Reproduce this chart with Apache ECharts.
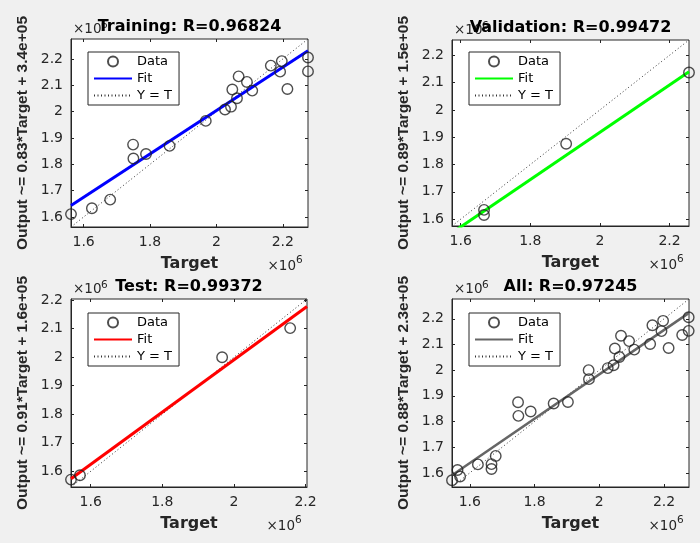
<!DOCTYPE html>
<html><head><meta charset="utf-8">
<script src="https://cdn.jsdelivr.net/npm/echarts@6/dist/echarts.min.js"></script>
<style>html,body{margin:0;padding:0;background:#f0f0f0}#c{width:700px;height:543px}</style>
</head><body><div id="c"></div>
<script>
// values in units of 1e6 (axes show "x10^6")
const trainTarget = [1.562,1.625,1.680,1.749,1.750,1.788,1.859,1.968,2.026,2.044,2.048,2.062,2.067,2.092,2.108,2.164,2.192,2.197,2.214,2.276,2.276];
const trainOutput = [1.611,1.633,1.666,1.875,1.822,1.839,1.870,1.965,2.008,2.019,2.084,2.051,2.134,2.113,2.080,2.175,2.152,2.192,2.086,2.206,2.153];
const valTarget = [1.667,1.667,1.903,2.256];
const valOutput = [1.615,1.634,1.876,2.137];
const testTarget = [1.545,1.570,1.967,2.157];
const testOutput = [1.571,1.586,2.000,2.102];
const allTarget = trainTarget.concat(valTarget, testTarget);
const allOutput = trainOutput.concat(valOutput, testOutput);

// fitted-line end points
const fitTrain = [[1.562,1.644],[2.276,2.231]];
const fitVal = [[1.575,1.550],[2.256,2.140]];
const fitTest = [[1.545,1.574],[2.204,2.178]];
const fitAll = [[1.545,1.591],[2.277,2.223]];

// axis limits (same for x and y)
const rangeTrain = [1.562, 2.276];
const rangeVal = [1.575, 2.256];
const rangeTest = [1.545, 2.204];
const rangeAll = [1.545, 2.277];

const xTicks = [1.6, 1.8, 2.0, 2.2];
const yTicks = [1.6, 1.7, 1.8, 1.9, 2.0, 2.1, 2.2];

const titles = ['Training: R=0.96824', 'Validation: R=0.99472', 'Test: R=0.99372', 'All: R=0.97245'];
const yNames = ['Output ~= 0.83*Target + 3.4e+05', 'Output ~= 0.89*Target + 1.5e+05', 'Output ~= 0.91*Target + 1.6e+05', 'Output ~= 0.88*Target + 2.3e+05'];
const xName = 'Target';
const legendNames = ['Data', 'Fit', 'Y = T'];
const fitColors = ['#0000ff', '#00ff00', '#ff0000', '#666666'];

const panels = [
  {t: trainTarget, o: trainOutput, fit: fitTrain, range: rangeTrain, grid: {left: 71, top: 39, width: 237, height: 188}, legend: {left: 88, top: 52}, fitW: 3},
  {t: valTarget, o: valOutput, fit: fitVal, range: rangeVal, grid: {left: 452, top: 40, width: 237, height: 186}, legend: {left: 469, top: 52}, fitW: 3},
  {t: testTarget, o: testOutput, fit: fitTest, range: rangeTest, grid: {left: 71, top: 299, width: 236, height: 188}, legend: {left: 88, top: 313}, fitW: 3},
  {t: allTarget, o: allOutput, fit: fitAll, range: rangeAll, grid: {left: 452, top: 299, width: 237, height: 188}, legend: {left: 469, top: 313}, fitW: 2.5}
];

const AX = '#262626';
const grid = [], xAxis = [], yAxis = [], series = [], legend = [], graphic = [];
const xTop = [], yRight = [];

panels.forEach((p, i) => {
  grid.push(Object.assign({show: true, backgroundColor: '#ffffff', borderColor: AX, borderWidth: 1, outerBoundsMode: 'none', containLabel: false}, p.grid));
  xAxis.push({
    gridIndex: i, type: 'value', min: p.range[0], max: p.range[1], position: 'bottom',
    axisLine: {show: true, lineStyle: {color: AX, width: 1}},
    axisTick: {show: true, inside: true, length: 3, customValues: xTicks, lineStyle: {color: AX}},
    axisLabel: {customValues: xTicks, margin: 8, fontFamily: 'DejaVu Sans', fontSize: 14, color: AX},
    splitLine: {show: false},
    name: xName, nameLocation: 'middle', nameGap: 29,
    nameTextStyle: {fontFamily: 'DejaVu Sans', fontWeight: 'bold', fontSize: 16, color: AX}
  });
  yAxis.push({
    gridIndex: i, type: 'value', min: p.range[0], max: p.range[1], position: 'left',
    axisLine: {show: true, lineStyle: {color: AX, width: 1}},
    axisTick: {show: true, inside: true, length: 3, customValues: yTicks, lineStyle: {color: AX}},
    axisLabel: {customValues: yTicks, margin: 8, fontFamily: 'DejaVu Sans', fontSize: 14, color: AX},
    splitLine: {show: false},
    name: yNames[i], nameLocation: 'middle', nameGap: 40, nameRotate: 90,
    nameTextStyle: {fontFamily: 'Liberation Sans', fontWeight: 'bold', fontSize: 15.5, color: AX, lineHeight: 16}
  });
  xTop.push({
    gridIndex: i, type: 'value', min: p.range[0], max: p.range[1], position: 'top',
    axisLine: {show: false},
    axisTick: {show: true, inside: true, length: 3, customValues: xTicks, lineStyle: {color: AX}},
    axisLabel: {show: false}, splitLine: {show: false}
  });
  yRight.push({
    gridIndex: i, type: 'value', min: p.range[0], max: p.range[1], position: 'right',
    axisLine: {show: false},
    axisTick: {show: true, inside: true, length: 3, customValues: yTicks, lineStyle: {color: AX}},
    axisLabel: {show: false}, splitLine: {show: false}
  });

  const suf = '#' + i;
  series.push({
    name: legendNames[2] + suf, type: 'line', xAxisIndex: i, yAxisIndex: i,
    data: [[p.range[0], p.range[0]], [p.range[1], p.range[1]]],
    symbol: 'none', silent: true, z: 2,
    itemStyle: {color: '#333333', opacity: 0},
    lineStyle: {color: '#333333', width: 1, type: [1, 2.5]}
  });
  series.push({
    name: legendNames[1] + suf, type: 'line', xAxisIndex: i, yAxisIndex: i,
    data: p.fit, symbol: 'none', silent: true, z: 3,
    itemStyle: {color: fitColors[i], opacity: 0},
    lineStyle: {color: fitColors[i], width: p.fitW}
  });
  series.push({
    name: legendNames[0] + suf, type: 'scatter', xAxisIndex: i, yAxisIndex: i,
    data: p.t.map((v, k) => [v, p.o[k]]),
    symbol: 'circle', symbolSize: 10.5, silent: true, z: 4,
    itemStyle: {color: 'rgba(255,255,255,0)', borderColor: '#222222', borderWidth: 1.4}
  });

  legend.push({
    data: legendNames.map(n => n + suf), orient: 'vertical', align: 'left',
    left: p.legend.left, top: p.legend.top,
    itemWidth: 38, itemHeight: 10, itemGap: 4, padding: [3, 7, 3, 5],
    backgroundColor: '#ffffff', borderColor: AX, borderWidth: 1, borderRadius: 0,
    selectedMode: false,
    textStyle: {fontFamily: 'DejaVu Sans', fontSize: 13, color: '#000000'},
    formatter: n => n.split('#')[0]
  });

  const g = p.grid;
  const right = g.left + g.width, bottom = g.top + g.height;
  // x exponent label (bottom right)
  graphic.push({type: 'text', x: right - 12, y: bottom + 39.5, z: 50,
    style: {text: '×10', fontFamily: 'DejaVu Sans', fontSize: 13.5, fill: AX, align: 'right', verticalAlign: 'middle'}});
  graphic.push({type: 'text', x: right - 12, y: bottom + 33, z: 50,
    style: {text: '6', fontFamily: 'DejaVu Sans', fontSize: 10.5, fill: AX, align: 'left', verticalAlign: 'middle'}});
  // y exponent label (top left)
  graphic.push({type: 'text', x: g.left + 2, y: g.top - 9.5, z: 50,
    style: {text: '×10', fontFamily: 'DejaVu Sans', fontSize: 13.5, fill: AX, align: 'left', verticalAlign: 'middle'}});
  graphic.push({type: 'text', x: g.left + 30, y: g.top - 14, z: 50,
    style: {text: '6', fontFamily: 'DejaVu Sans', fontSize: 10.5, fill: AX, align: 'left', verticalAlign: 'middle'}});
  // panel title
  graphic.push({type: 'text', x: g.left + g.width / 2, y: g.top - 12.5, z: 60,
    style: {text: titles[i], fontFamily: 'DejaVu Sans', fontWeight: 'bold', fontSize: 16, fill: '#000000', align: 'center', verticalAlign: 'middle'}});
});

const chart = echarts.init(document.getElementById('c'), null, {renderer: 'canvas'});
chart.setOption({
  backgroundColor: '#f0f0f0',
  animation: false,
  grid: grid,
  xAxis: xAxis.concat(xTop),
  yAxis: yAxis.concat(yRight),
  legend: legend,
  series: series,
  graphic: graphic
});
</script></body></html>
